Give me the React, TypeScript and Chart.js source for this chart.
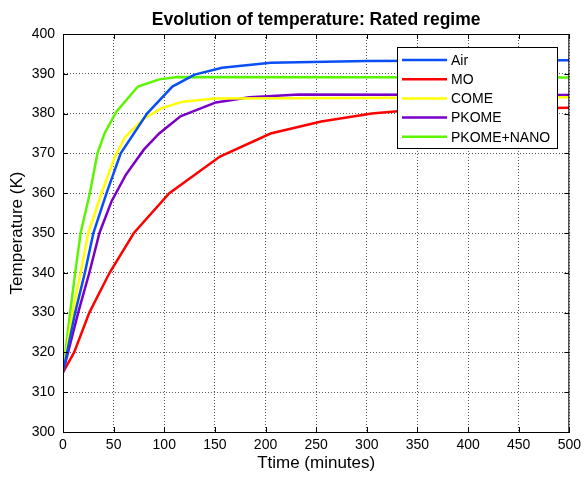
import React, { useEffect, useRef } from "react";
import { Chart, registerables } from "chart.js";

Chart.register(...registerables);

const seriesNames = ["Air", "MO", "COME", "PKOME", "PKOME+NANO"];
const seriesColors = ["#0a4ff5", "#ff0000", "#ffff00", "#7a00c8", "#5cf500"];

const airData = [
  [0, 315], [12, 330], [21.6, 340], [30, 350], [43, 360], [57, 370], [83, 380],
  [108, 386.8], [130, 389.8], [157, 391.5], [205, 392.8], [300, 393.2], [500, 393.4],
];
const moData = [
  [0, 315], [11, 320], [26, 330], [46, 340], [70, 350], [105, 360], [155, 369.2],
  [205, 375], [255, 378], [305, 380], [350, 381], [500, 381.5],
];
const comeData = [
  [0, 315], [9.5, 330], [17.4, 340], [24.9, 350], [38, 360], [51, 369], [61, 374],
  [79, 378.6], [97, 381.3], [118, 383], [150, 383.8], [500, 384.1],
];
const pkomeData = [
  [0, 315], [15, 330], [26, 340], [36, 350], [48, 358], [62, 364.6], [80, 371],
  [95, 375], [116, 379.3], [151, 382.8], [184, 384.1], [233, 384.8], [500, 384.7],
];
const nanoData = [
  [0, 315], [7, 330], [12, 340], [17.4, 350], [26.5, 360], [34, 370], [41, 375],
  [52.7, 380.5], [74, 386.8], [95, 388.6], [113, 389.2], [500, 389.1],
];
const allSeries = [airData, moData, comeData, pkomeData, nanoData];

const xTicks = [0, 50, 100, 150, 200, 250, 300, 350, 400, 450, 500];
const yTicks = [300, 310, 320, 330, 340, 350, 360, 370, 380, 390, 400];

const FONT = "Arial, 'Liberation Sans', sans-serif";

export default function App() {
  const ref = useRef<HTMLCanvasElement | null>(null);

  useEffect(() => {
    if (!ref.current) return;
    const boxPlugin = {
      id: "boxAndLegend",
      afterDraw(chart: any) {
        const { ctx, chartArea } = chart;
        ctx.save();
        ctx.setLineDash([]);
        ctx.strokeStyle = "#000";
        ctx.lineWidth = 1;
        ctx.strokeRect(chartArea.left + 0.5, chartArea.top + 0.5, chartArea.right - chartArea.left - 1, chartArea.bottom - chartArea.top);
        const xs = chart.scales.x;
        const ys = chart.scales.y;
        ctx.beginPath();
        xTicks.forEach((v) => {
          const px = Math.round(xs.getPixelForValue(v)) + 0.5;
          ctx.moveTo(px, chartArea.bottom);
          ctx.lineTo(px, chartArea.bottom - 5);
          ctx.moveTo(px, chartArea.top);
          ctx.lineTo(px, chartArea.top + 5);
        });
        yTicks.forEach((v) => {
          const py = Math.round(ys.getPixelForValue(v)) + 0.5;
          ctx.moveTo(chartArea.left, py);
          ctx.lineTo(chartArea.left + 5, py);
          ctx.moveTo(chartArea.right, py);
          ctx.lineTo(chartArea.right - 5, py);
        });
        ctx.stroke();
        ctx.fillStyle = "#000";
        ctx.font = "bold 17.5px " + FONT;
        ctx.textAlign = "center";
        ctx.textBaseline = "middle";
        ctx.fillText("Evolution of temperature: Rated regime", (chartArea.left + chartArea.right) / 2, 20);
        const lx = 397.5, ly = 47.5, lw = 160, lh = 101;
        ctx.fillStyle = "#fff";
        ctx.fillRect(lx, ly, lw, lh);
        ctx.strokeStyle = "#000";
        ctx.strokeRect(lx, ly, lw, lh);
        chart.data.datasets.forEach((ds: any, i: number) => {
          const y = 60 + i * 19.2;
          ctx.strokeStyle = ds.borderColor;
          ctx.lineWidth = 2.5;
          ctx.beginPath();
          ctx.moveTo(402, y);
          ctx.lineTo(447, y);
          ctx.stroke();
          ctx.fillStyle = "#000";
          ctx.font = "14px " + FONT;
          ctx.textAlign = "left";
          ctx.textBaseline = "middle";
          ctx.fillText(ds.label, 451, y + 1);
        });
        ctx.restore();
      },
    };

    const chart = new Chart(ref.current, {
      type: "line",
      data: {
        datasets: seriesNames.map((name, i) => ({
          label: name,
          data: allSeries[i].map(([x, y]) => ({ x, y })),
          borderColor: seriesColors[i],
          backgroundColor: seriesColors[i],
          borderWidth: 2.5,
          pointRadius: 0,
          tension: 0,
          fill: false,
        })),
      },
      options: {
        animation: false,
        responsive: false,
        maintainAspectRatio: false,
        layout: { padding: { top: 34, right: 14, left: 0, bottom: 0 } },
        plugins: {
          legend: { display: false },
          title: { display: false },
          tooltip: { enabled: false },
        },
        scales: {
          x: {
            type: "linear",
            min: 0,
            max: 500,
            afterFit: (s: any) => { s.height = 47; },
            afterBuildTicks: (s: any) => { s.ticks = xTicks.map((v) => ({ value: v })); },
            ticks: { color: "#000", font: { size: 14, family: FONT }, padding: 5, maxRotation: 0 },
            grid: { color: "rgba(0,0,0,0.65)", drawTicks: false, lineWidth: 1 },
            border: { display: true, color: "#000", dash: [1, 2] },
            title: { display: true, text: "Ttime (minutes)", color: "#000", font: { size: 17, family: FONT }, padding: { top: 2, bottom: 5 } },
          },
          y: {
            type: "linear",
            min: 300,
            max: 400,
            afterFit: (s: any) => { s.width = 63; },
            afterBuildTicks: (s: any) => { s.ticks = yTicks.map((v) => ({ value: v })); },
            ticks: { color: "#000", font: { size: 14, family: FONT }, padding: 8 },
            grid: { color: "rgba(0,0,0,0.65)", drawTicks: false, lineWidth: 1 },
            border: { display: true, color: "#000", dash: [1, 2] },
            title: { display: true, text: "Temperature (K)", color: "#000", font: { size: 17, family: FONT }, padding: { top: 7, bottom: 0 } },
          },
        },
      },
      plugins: [boxPlugin],
    } as any);

    return () => chart.destroy();
  }, []);

  return (
    <div style={{ position: "absolute", left: 0, top: 0, width: 586, height: 479, background: "#fff" }}>
      <canvas ref={ref} width={586} height={479} style={{ width: 586, height: 479, display: "block" }} />
    </div>
  );
}
